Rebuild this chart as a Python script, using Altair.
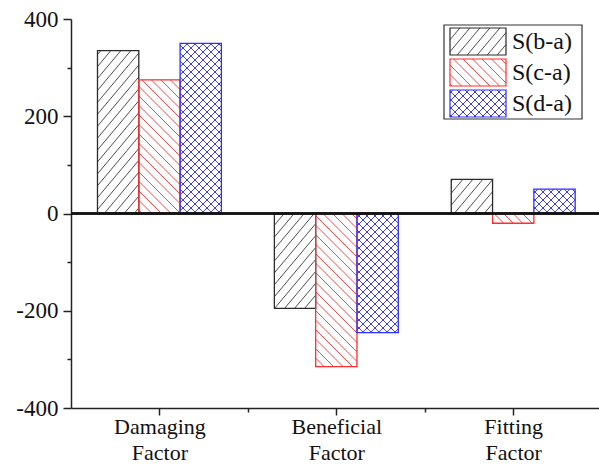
import json
import numpy as np
import pandas as pd
import altair as alt

# ---- data -------------------------------------------------------------
categories = ["Damaging Factor", "Beneficial Factor", "Fitting Factor"]
series = ["S(b-a)", "S(c-a)", "S(d-a)"]
s_ba = [335, -195, 70]
s_ca = [275, -315, -20]
s_da = [350, -245, 50]
values = {"S(b-a)": s_ba, "S(c-a)": s_ca, "S(d-a)": s_da}

# ---- geometry / style ---------------------------------------------------
W, H = 528, 389
X_DOM = [0.5, 3.485]
Y_DOM = [-400, 400]
KX = W / (X_DOM[1] - X_DOM[0])   # px per category unit
KY = H / (Y_DOM[1] - Y_DOM[0])   # px per value unit
BAR_W = 0.2335                   # bar width in category units
FONT = "Liberation Serif"

outline = {"S(b-a)": "#2b2b2b", "S(c-a)": "#ff2e2e", "S(d-a)": "#2e2eff"}
hatch_col = {"S(b-a)": "#4d4d4d", "S(c-a)": "#f24a4a", "S(d-a)": "#4646f0"}
# hatch families: (line angle in degrees, horizontal spacing in px)
hatch_def = {
    "S(b-a)": [(50, 10.0)],
    "S(c-a)": [(-45, 9.5)],
    "S(d-a)": [(45, 8.0), (-45, 8.0)],
}

# legend box and entries, in px from the plot's top-left corner
LEG_BOX = (373, 511, 6, 100)          # x0, x1, y0, y1
LEG_SYM_X = (379, 435)
LEG_ROW_Y = [(9, 36), (40, 67), (71, 98)]
LEG_TEXT_X = 441


def hatch_segments(x0, x1, y0, y1, angle, hsp):
    """Clip a family of parallel lines to the box [x0,x1]x[y0,y1] (px, y up)."""
    th = np.radians(angle)
    d = np.array([np.cos(th), np.sin(th)])
    n = np.array([-np.sin(th), np.cos(th)])
    s = abs(hsp * np.sin(th))
    cs = [n[0] * cx + n[1] * cy for cx in (x0, x1) for cy in (y0, y1)]
    segs = []
    for k in range(int(np.ceil(min(cs) / s)), int(np.floor(max(cs) / s)) + 1):
        p0 = k * s * n
        t0, t1 = -1e9, 1e9
        for i, (lo, hi) in enumerate([(x0, x1), (y0, y1)]):
            if abs(d[i]) < 1e-12:
                if not (lo <= p0[i] <= hi):
                    t0, t1 = 1.0, 0.0
                continue
            ta, tb = (lo - p0[i]) / d[i], (hi - p0[i]) / d[i]
            t0, t1 = max(t0, min(ta, tb)), min(t1, max(ta, tb))
        if t1 - t0 > 0.8:
            a, b = p0 + t0 * d, p0 + t1 * d
            segs.append((a[0], a[1], b[0], b[1]))
    return segs


def crossings(x0, x1, y0, y1, fa, fb):
    """Intersection points of two hatch families inside a box (px, y up)."""
    pts = []
    (aa, ha), (ab, hb) = fa, fb
    ta, tb = np.radians(aa), np.radians(ab)
    na = np.array([-np.sin(ta), np.cos(ta)])
    nb = np.array([-np.sin(tb), np.cos(tb)])
    sa, sb = abs(ha * np.sin(ta)), abs(hb * np.sin(tb))
    M = np.array([na, nb])
    corners = [(cx, cy) for cx in (x0, x1) for cy in (y0, y1)]
    ca = [na @ np.array(c) for c in corners]
    cb = [nb @ np.array(c) for c in corners]
    for i in range(int(np.ceil(min(ca) / sa)), int(np.floor(max(ca) / sa)) + 1):
        for j in range(int(np.ceil(min(cb) / sb)), int(np.floor(max(cb) / sb)) + 1):
            p = np.linalg.solve(M, [i * sa, j * sb])
            if x0 + 0.5 < p[0] < x1 - 0.5 and y0 + 0.5 < p[1] < y1 - 0.5:
                pts.append((p[0], p[1]))
    return pts


to_px_x = lambda v: (v - X_DOM[0]) * KX
to_px_y = lambda v: (v - Y_DOM[0]) * KY
from_px_x = lambda p: p / KX + X_DOM[0]
from_px_y = lambda p: p / KY + Y_DOM[0]
from_top = lambda p: from_px_y(H - p)      # px measured down from the top


def add_hatch(s, px0, px1, py0, py1, hatch_rows, dot_rows):
    for ang, hsp in hatch_def[s]:
        for (ax, ay, bx, by) in hatch_segments(px0, px1, py0, py1, ang, hsp):
            hatch_rows.append(dict(series=s, x=from_px_x(ax), y=from_px_y(ay),
                                   x2=from_px_x(bx), y2=from_px_y(by),
                                   hcolor=hatch_col[s]))
    if len(hatch_def[s]) == 2:
        for (qx, qy) in crossings(px0, px1, py0, py1, *hatch_def[s]):
            dot_rows.append(dict(x=from_px_x(qx), y=from_px_y(qy),
                                 hcolor=outline[s]))


# ---- tables built from the arrays ----------------------------------------
bar_rows, hatch_rows, dot_rows = [], [], []
for ci, cat in enumerate(categories):
    centre = ci + 1
    for si, s in enumerate(series):
        v = values[s][ci]
        xa = centre + (si - 1.5) * BAR_W
        xb = xa + BAR_W
        bar_rows.append(dict(category=cat, series=s, x=xa, x2=xb, y=0, y2=v,
                             ocolor=outline[s]))
        py0, py1 = sorted([to_px_y(0), to_px_y(v)])
        add_hatch(s, to_px_x(xa), to_px_x(xb), py0, py1, hatch_rows, dot_rows)

# legend entries: hatched swatch + label
leg_rows, leg_text = [], []
for s, (ty, by) in zip(series, LEG_ROW_Y):
    sx0, sx1 = LEG_SYM_X
    leg_rows.append(dict(series=s, x=from_px_x(sx0), x2=from_px_x(sx1),
                         y=from_top(ty), y2=from_top(by), ocolor=outline[s]))
    add_hatch(s, sx0, sx1, H - by, H - ty, hatch_rows, dot_rows)
    leg_text.append(dict(label=s, x=from_px_x(LEG_TEXT_X), y=from_top((ty + by) / 2)))

bars = pd.DataFrame(bar_rows)
hatches = pd.DataFrame(hatch_rows)
dots = pd.DataFrame(dot_rows)
swatches = pd.DataFrame(leg_rows)
labels = pd.DataFrame(leg_text)
box = pd.DataFrame([dict(x=from_px_x(LEG_BOX[0]), x2=from_px_x(LEG_BOX[1]),
                         y=from_top(LEG_BOX[2]), y2=from_top(LEG_BOX[3]))])

# ---- scales & axes --------------------------------------------------------
xs = alt.Scale(domain=X_DOM, nice=False, zero=False)
ys = alt.Scale(domain=Y_DOM, nice=False, zero=False)

label_lines = {i + 1: c.split(" ") for i, c in enumerate(categories)}
label_expr = " : ".join(
    [f"datum.value == {k} ? {json.dumps(v)}" for k, v in label_lines.items()]
) + " : ''"

x_axis = alt.Axis(values=[1, 2, 3], orient="bottom", title=None, grid=False,
                  labelExpr=label_expr, labelFont=FONT, labelFontSize=22,
                  labelColor="#111", labelLineHeight=26, labelPadding=1,
                  labelFlush=False, labelOverlap=False,
                  tickSize=7, tickWidth=1.5, tickColor="#222",
                  domainColor="#222", domainWidth=1.5)
y_axis = alt.Axis(values=[-400, -200, 0, 200, 400], orient="left", title=None,
                  grid=False, labelExpr="'' + datum.value",
                  labelFont=FONT, labelFontSize=23, labelColor="#111",
                  labelPadding=5, labelOverlap=False, labelFlush=False,
                  tickSize=8, tickWidth=1.5, tickColor="#222",
                  domainColor="#222", domainWidth=1.5)
x_minor = alt.Axis(values=[1.5, 2.5], orient="bottom", title=None, grid=False,
                   labels=False, domain=False, tickSize=4, tickWidth=1.5,
                   tickColor="#222")
y_minor = alt.Axis(values=[-300, -100, 100, 300], orient="left", title=None,
                   grid=False, labels=False, domain=False, tickSize=4,
                   tickWidth=1.5, tickColor="#222")


def X(field, axis=None):
    return alt.X(field, scale=xs, axis=axis)


def Y(field, axis=None):
    return alt.Y(field, scale=ys, axis=axis)


# ---- layers ---------------------------------------------------------------
bar_fill = alt.Chart(bars).mark_rect(fill="white", strokeWidth=0).encode(
    x=X("x:Q", x_axis), x2="x2:Q", y=Y("y:Q", y_axis), y2="y2:Q",
)

legend_box = alt.Chart(box).mark_rect(fill="white", stroke="#333",
                                      strokeWidth=1.2).encode(
    x=X("x:Q"), x2="x2:Q", y=Y("y:Q"), y2="y2:Q",
)

hatch_layer = alt.Chart(hatches).mark_rule(strokeWidth=1).encode(
    x=X("x:Q", x_minor), x2="x2:Q", y=Y("y:Q", y_minor), y2="y2:Q",
    stroke=alt.Stroke("hcolor:N", scale=None),
)

dot_layer = alt.Chart(dots).mark_circle(size=3, opacity=1).encode(
    x=X("x:Q"), y=Y("y:Q"), color=alt.Color("hcolor:N", scale=None),
)

bar_outline = alt.Chart(bars).mark_rect(fillOpacity=0, strokeWidth=1.3).encode(
    x=X("x:Q"), x2="x2:Q", y=Y("y:Q"), y2="y2:Q",
    stroke=alt.Stroke("ocolor:N", scale=None),
)

swatch_outline = alt.Chart(swatches).mark_rect(fillOpacity=0, strokeWidth=1.2).encode(
    x=X("x:Q"), x2="x2:Q", y=Y("y:Q"), y2="y2:Q",
    stroke=alt.Stroke("ocolor:N", scale=None),
)

legend_labels = alt.Chart(labels).mark_text(
    align="left", baseline="middle", font=FONT, fontSize=24, color="#111"
).encode(x=X("x:Q"), y=Y("y:Q"), text="label:N")

# baseline at zero, drawn over the bars
zero_line = alt.Chart(bars).mark_rule(color="#111", strokeWidth=1.6).encode(
    y=Y("zero:Q")
).transform_calculate(zero="0")

chart = (
    alt.layer(bar_fill, legend_box, hatch_layer, dot_layer,
              bar_outline, swatch_outline, legend_labels, zero_line)
    .resolve_axis(x="independent", y="independent")
    .properties(
        width=W, height=H,
        padding={"left": 71, "top": 19, "right": 0, "bottom": 57},
        autosize=alt.AutoSizeParams(type="none"),
    )
    .configure(font=FONT)
    .configure_view(stroke=None)
    .configure_axis(labelFont=FONT)
)

chart.save("out.html", embed_options={"renderer": "svg", "actions": False})
